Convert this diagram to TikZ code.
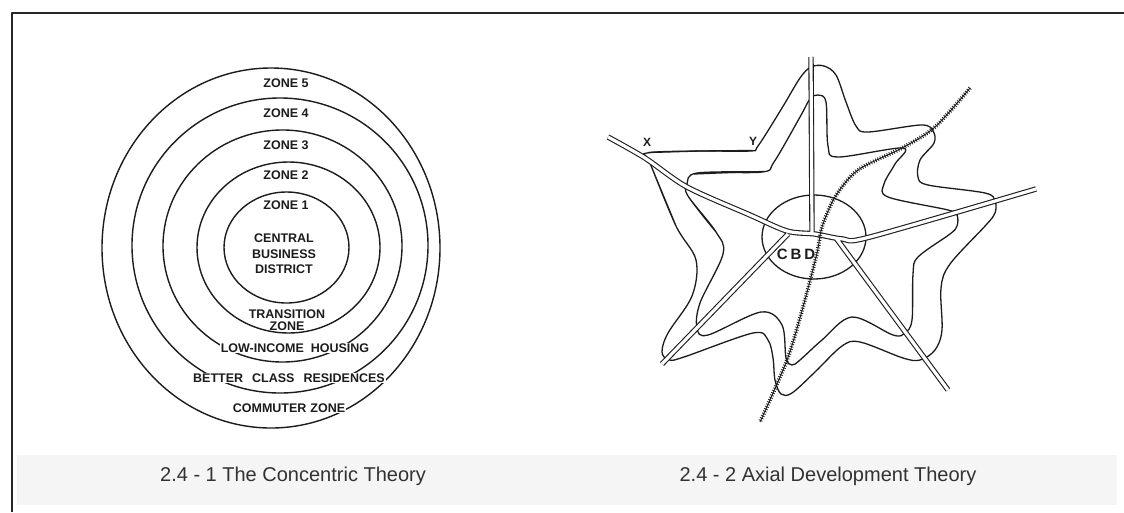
\documentclass[tikz,border=0pt]{standalone}
\usepackage{fontspec}
\setmainfont{Liberation Sans}
\definecolor{inkgray}{RGB}{28, 28, 28}
\definecolor{capgray}{RGB}{50, 50, 50}
\definecolor{bandgray}{RGB}{245, 245, 245}

\begin{document}
\begin{tikzpicture}[x=1pt, y=-1pt, line join=round,
  ring/.style={draw=inkgray, line width=1.4pt},
  zonelbl/.style={font=\fontsize{12.5}{13}\selectfont\bfseries, text=inkgray, inner sep=1pt},
  zonemask/.style={zonelbl, fill=white},
  contour/.style={draw=inkgray, line width=1.3pt},
  road/.style={draw=inkgray, line width=1.1pt, double=white, double distance=3.2pt},
  rail/.style={draw=inkgray, line width=0.9pt,
    postaction={draw=inkgray, line width=4pt, dash pattern=on 0.8pt off 1.7pt}},
  caption/.style={font=\fontsize{20}{22}\selectfont, text=capgray}]

  \useasboundingbox (0,0) rectangle (1124,512);
  \fill[white] (0,0) rectangle (1124,512);
  \fill[bandgray] (17,455) rectangle (1117,505);

  % Frame (only top and left edge inside the page)
  \draw[line width=2pt, draw=black!85] (12,512) -- (12,13) -- (1124,13);

  % Left: concentric rings (hand drawn, centres drift a little)
  \draw[ring] (271,248) ellipse [x radius=169, y radius=180];
  \draw[ring] (280,245.5) ellipse [x radius=148, y radius=147.5];
  \draw[ring] (282.5,246) ellipse [x radius=119.5, y radius=116];
  \draw[ring] (288.5,247.5) ellipse [x radius=91.5, y radius=85.5];
  \draw[ring] (286.5,247.5) ellipse [x radius=62.5, y radius=55.5];

  % Zone numbers along the top
  \node[zonelbl] (zone5) at (286,83) {ZONE 5};
  \node[zonelbl] (zone4) at (286,113) {ZONE 4};
  \node[zonelbl] (zone3) at (286,145) {ZONE 3};
  \node[zonelbl] (zone2) at (286,175) {ZONE 2};
  \node[zonelbl] (zone1) at (286,205) {ZONE 1};
  \node[zonelbl, align=center, font=\fontsize{12.5}{15.5}\selectfont\bfseries] (cbdtext) at (284,254) {CENTRAL\\BUSINESS\\DISTRICT};

  % Zone names along the bottom
  \node[zonelbl, align=center, font=\fontsize{12.5}{12}\selectfont\bfseries] (transzone) at (287,320) {TRANSITION\\ZONE};
  \node[zonemask] (lowinc) at (295,348) {LOW-INCOME\hspace{7pt}HOUSING};
  \node[zonemask] (better) at (289,378) {BETTER\hspace{9pt}CLASS\hspace{9pt}RESIDENCES};
  \node[zonemask] (commuter) at (289,408) {COMMUTER\hspace{4pt}ZONE};

  % Right: axial development, outer and inner built-up edge
  % (list wraps round: last points repeated at the start, first ones at the end)
  \draw[contour] plot[smooth, tension=0.55] coordinates {
    (676,226) (650,163)
    (647,153) (700,151) (750,151) (758,146) (782,108) (800,78) (811,67) (824,66)
    (836,75) (846,102) (856,126) (868,132) (921,125) (933,131) (934,143) (920,160)
    (918,177) (928,185) (985,193) (995,201) (995,213) (986,225) (950,264) (941,288)
    (942,330) (935,350) (920,360) (903,358) (860,342) (842,346) (815,372) (792,393)
    (781,394) (775,380) (773,358) (768,340) (753,333) (684,357) (669,360) (662,352)
    (668,333) (692,296) (696,260) (676,226) (650,163)
    (647,153) (700,151) (750,151)};
  \draw[contour] plot[smooth, tension=0.55] coordinates {
    (716,232) (688,196)
    (687,184) (697,173) (762,172) (774,162) (800,117) (810,99) (818,95) (826,102)
    (828,146) (838,157) (903,148) (895,164) (884,184) (888,197) (948,210) (957,215)
    (957,226) (950,234) (918,257) (913,274) (912,320) (905,333) (893,335) (852,317)
    (822,340) (800,360) (792,365) (786,358) (782,325) (761,312) (708,335) (697,328)
    (700,303) (723,254) (716,232) (688,196)
    (687,184) (697,173) (762,172)};
  % straight runs X--Y and the one below it
  \draw[contour] (648,152.5) -- (700,151) -- (752,150.5);
  \draw[contour] (694,174) -- (730,172.5) -- (764,171.5);

  % Central business district
  \draw[contour] (814,237) ellipse [x radius=52, y radius=42];

  % Roads
  \draw[road] plot[smooth] coordinates {(608,137) (645,158) (687,187) (750,215)
      (787,231) (815,234) (843,239) (870,237) (1036,189)}
    (811,57) -- (812,232)
    (788,234) -- (662,364)
    (836,238) -- (948,390);

  % Railway
  \draw[rail] plot[smooth] coordinates {(970,88) (935,127) (902,148) (858,170)
    (835,197) (822,227) (817,253) (803,307) (787,360) (760,422)};

  \node[font=\fontsize{15}{15}\selectfont\bfseries, text=inkgray, inner sep=0pt] (cbd) at (796,254) {C\kern3pt B\kern3pt D};
  \node[font=\fontsize{12}{12}\selectfont\bfseries, text=inkgray, inner sep=0pt] (xmark) at (647,142) {X};
  \node[font=\fontsize{12}{12}\selectfont\bfseries, text=inkgray, inner sep=0pt] (ymark) at (753,141) {Y};

  % Captions
  \node[caption] (capA) at (293,476) {2.4 - 1 The Concentric Theory};
  \node[caption] (capB) at (828,476) {2.4 - 2 Axial Development Theory};
\end{tikzpicture}
\end{document}
